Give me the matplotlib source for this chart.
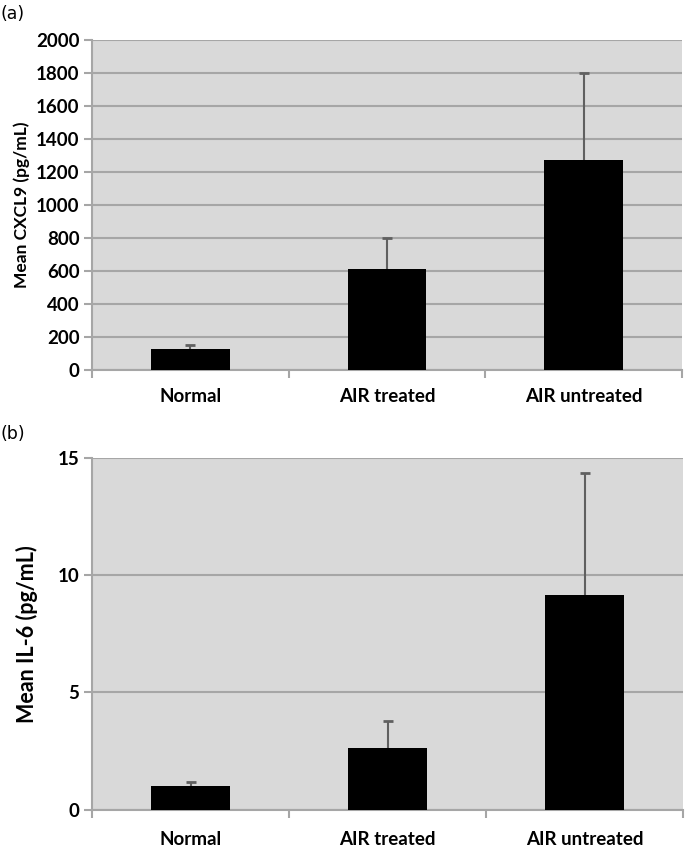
import matplotlib
matplotlib.use('Agg')
import matplotlib.pyplot as plt
import numpy as np

groups = ['Normal', 'AIR treated', 'AIR untreated']
cxcl9_mean = [130, 610, 1270]
cxcl9_err = [24, 190, 532]
il6_mean = [1.03, 2.61, 9.15]
il6_err = [0.14, 1.16, 5.19]

bg = '#d9d9d9'
gridc = '#a6a6a6'
tickfont = 'Lato'

fig = plt.figure(figsize=(6.89, 8.52), dpi=100)
ax1 = fig.add_axes([92/689, 1-370/852, 590/689, 330/852])
ax2 = fig.add_axes([92/689, 1-809.7/852, 591/689, 352/852])


def draw(ax, means, errs, ymax, step, ylabel, ylsize, ypad, xpad):
    x = np.arange(len(groups))
    tops = np.array(means) + np.array(errs)
    ax.set_facecolor(bg)
    ax.set_axisbelow(True)
    ax.yaxis.grid(True, color=gridc, linewidth=1.5)
    # upper error bar only (lower half hidden behind bar in the original)
    ax.vlines(x, means, tops, color='#606060', linewidth=1.5, zorder=2)
    ax.plot(x, tops, linestyle='none', marker='_', markersize=7,
            markeredgewidth=2, color='#606060', zorder=2)
    ax.bar(x, means, width=0.4, color='black', zorder=3)
    ax.set_xlim(-0.5, 2.5)
    ax.set_ylim(0, ymax)
    ax.set_yticks(np.arange(0, ymax + step / 2, step))
    ax.set_xticks(x)
    ax.set_xticklabels(groups, fontfamily=tickfont, fontweight='bold', fontsize=13.5)
    ax.set_xticks(np.arange(-0.5, 2.6, 1), minor=True)
    ax.tick_params(axis='x', which='major', length=0, pad=xpad)
    ax.tick_params(axis='x', which='minor', length=6, color=gridc, width=1.5)
    ax.tick_params(axis='y', length=6, color=gridc, width=1.5, pad=3)
    for lab in ax.get_yticklabels():
        lab.set_fontfamily(tickfont)
        lab.set_fontweight('bold')
        lab.set_fontsize(13.5)
    for s in ['top', 'right']:
        ax.spines[s].set_visible(False)
    for s in ['left', 'bottom']:
        ax.spines[s].set_color(gridc)
        ax.spines[s].set_linewidth(1.5)
    ax.set_ylabel(ylabel, fontfamily=tickfont, fontweight='bold', fontsize=ylsize, labelpad=ypad)


draw(ax1, cxcl9_mean, cxcl9_err, 2000, 200, 'Mean CXCL9 (pg/mL)', 12.5, 4, 13)
draw(ax2, il6_mean, il6_err, 15, 5, 'Mean IL-6 (pg/mL)', 15.5, 14, 15)

fig.text(0.0, 1 - 14/852, '(a)', fontsize=12.5, va='center', ha='left', fontfamily='DejaVu Sans')
fig.text(0.0, 1 - 434/852, '(b)', fontsize=12.5, va='center', ha='left', fontfamily='DejaVu Sans')

plt.savefig('out.png', dpi=100)
